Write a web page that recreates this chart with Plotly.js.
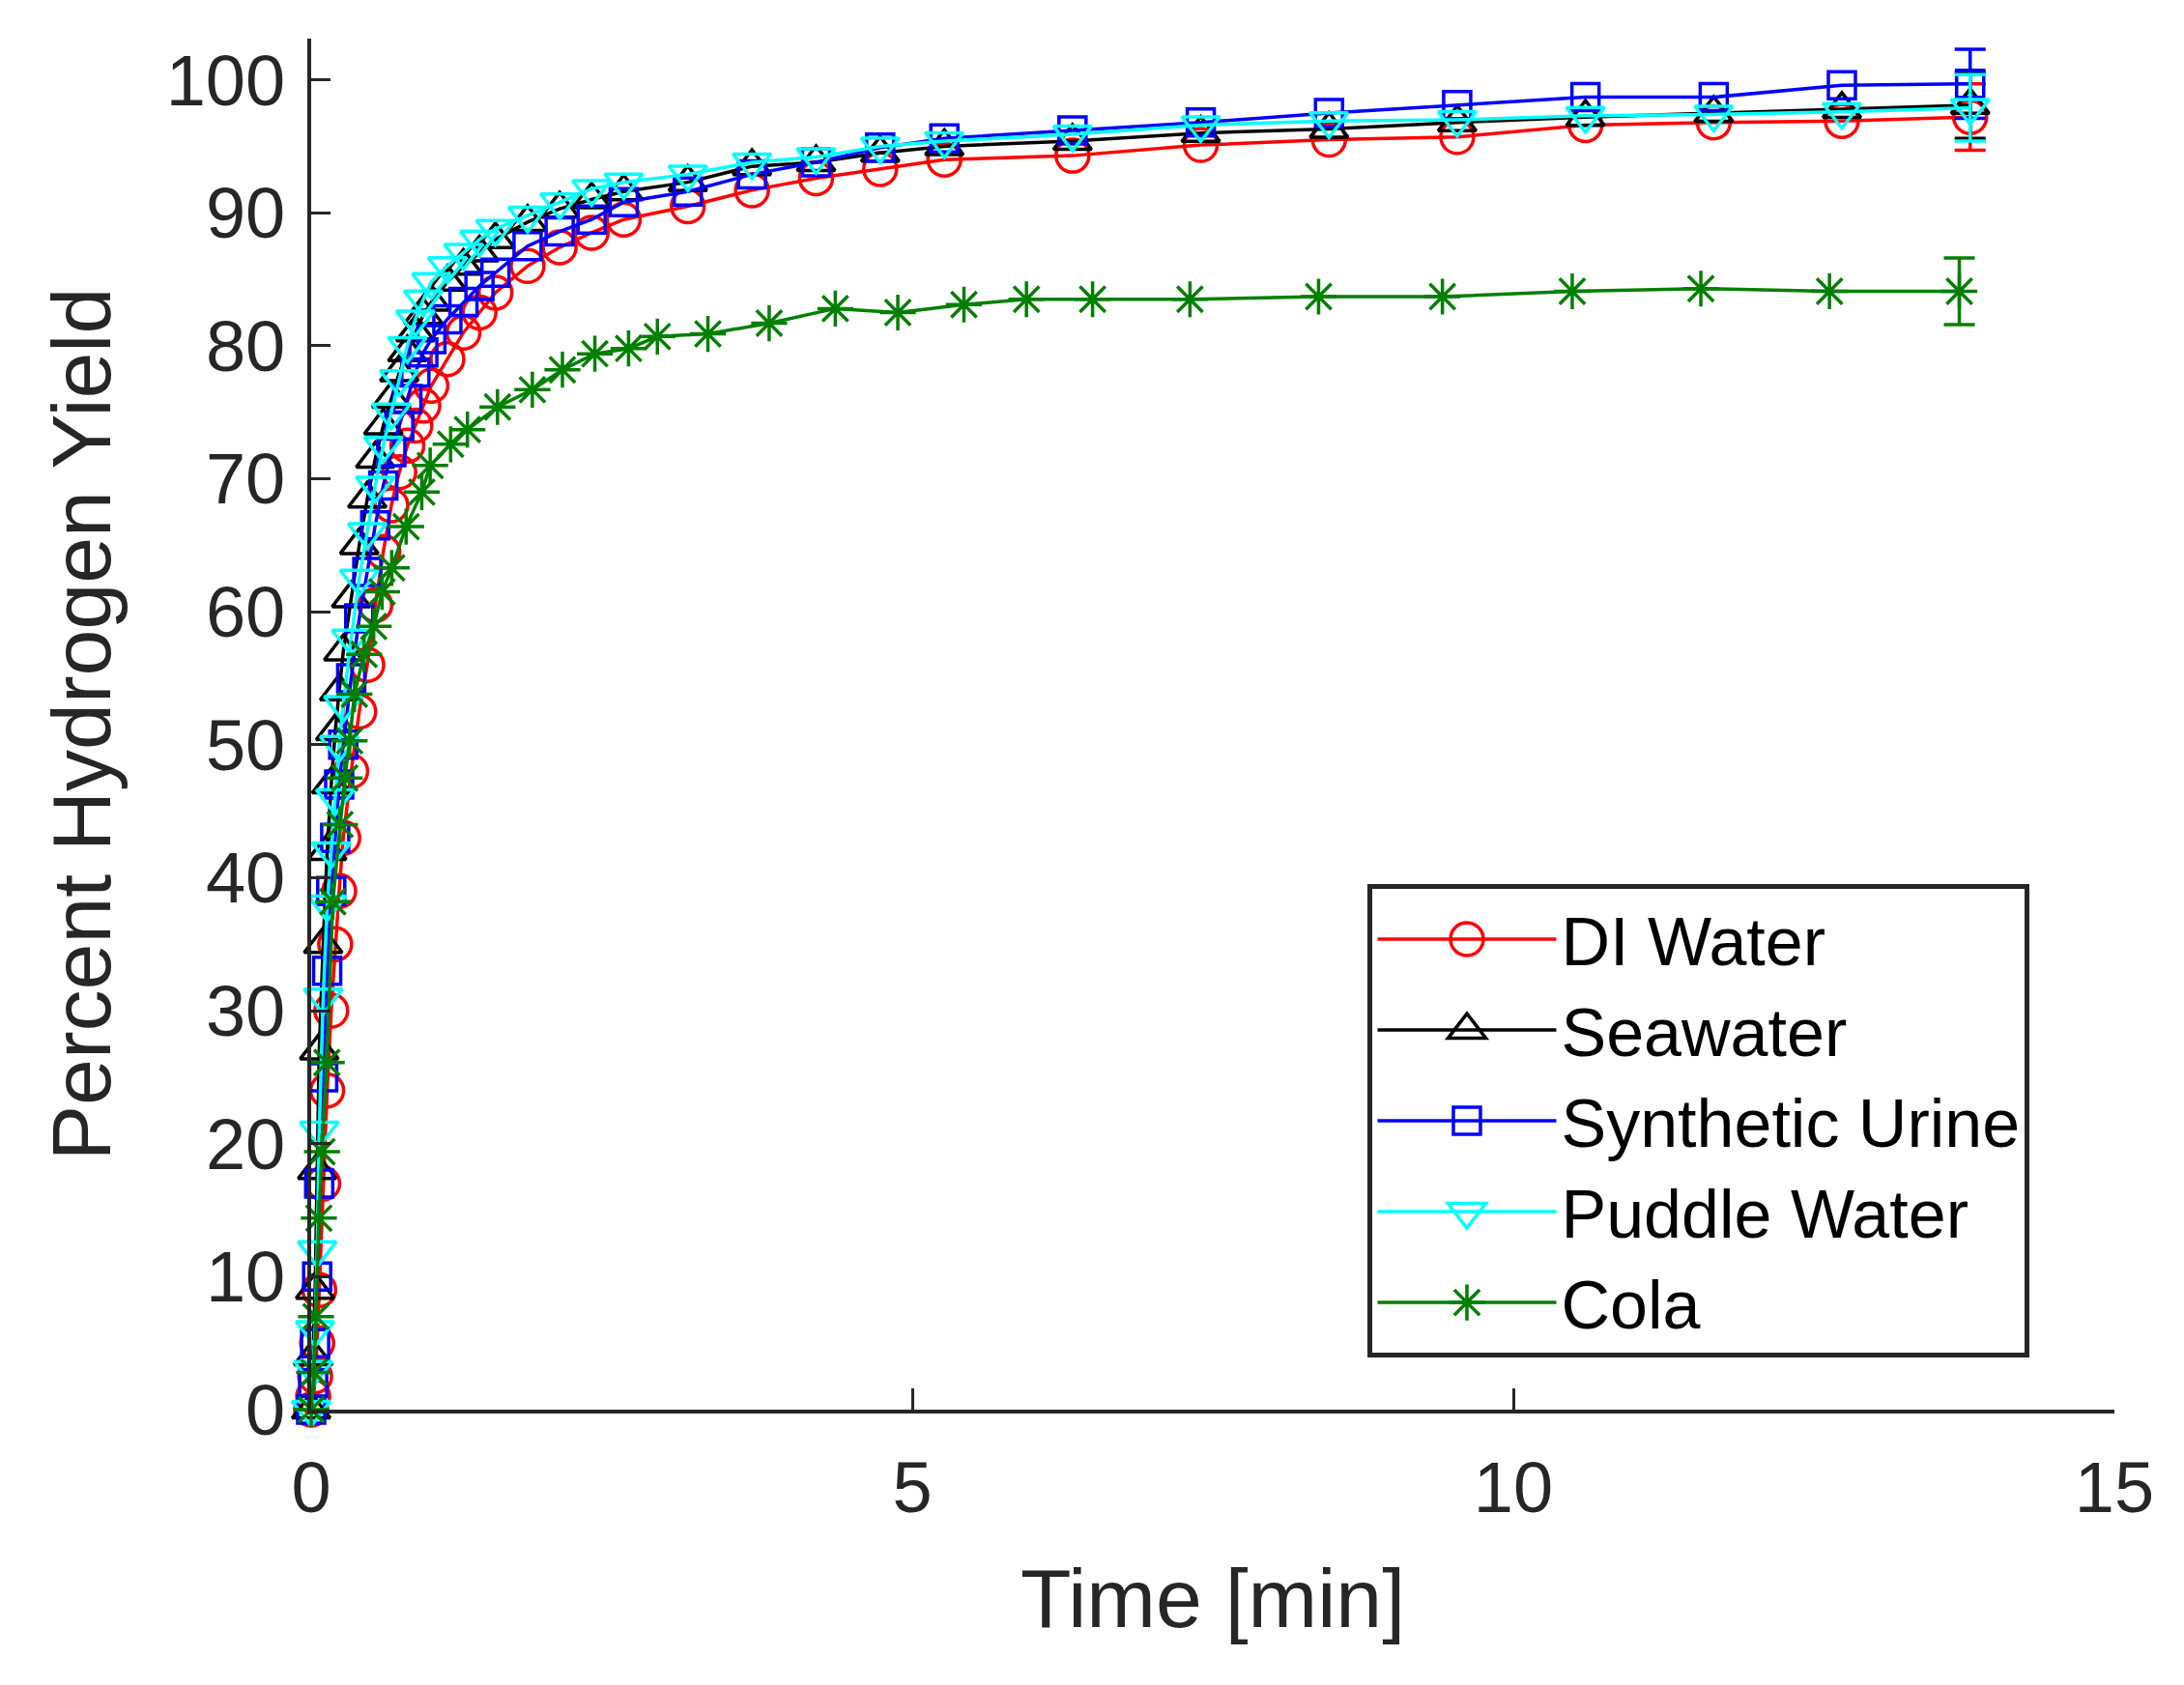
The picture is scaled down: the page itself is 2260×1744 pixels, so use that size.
<!DOCTYPE html>
<html>
<head>
<meta charset="utf-8">
<script src="https://cdn.plot.ly/plotly-3.0.1.min.js"></script>
<style>html,body{margin:0;padding:0;background:#fff}</style>
</head>
<body>
<div id="chart" style="width:2260px;height:1744px"></div>
<script>
// sampling times [min] for the four water-like samples
const timeWater = [0, 0.017, 0.033, 0.05, 0.067, 0.1, 0.133, 0.167, 0.2, 0.233, 0.267, 0.333, 0.4, 0.467,
  0.533, 0.6, 0.667, 0.733, 0.8, 0.867, 0.933, 1.0, 1.133, 1.267, 1.4, 1.533, 1.8, 2.067, 2.333, 2.6,
  3.133, 3.667, 4.2, 4.733, 5.267, 6.333, 7.4, 8.467, 9.533, 10.6, 11.667, 12.733, 13.8];

const diWater = [0, 1, 2.5, 5, 9, 17, 24, 30, 35, 39, 43, 48, 52.5, 56, 60.5, 64.5, 68, 70.5, 72.5, 74,
  75.5, 77, 79, 81, 82.5, 84, 86, 87.4, 88.5, 89.5, 90.5, 91.7, 92.6, 93.3, 94.0, 94.3, 95.1, 95.5,
  95.7, 96.6, 96.8, 96.9, 97.2];
const seawater = [0, 4, 9, 18, 27, 35, 42, 47, 51, 54, 57, 61, 65, 68.5, 71.5, 74, 76, 78, 79.5, 81,
  82.3, 83.3, 84.8, 86, 87, 88, 89.3, 90.3, 91, 91.6, 92.3, 93.5, 93.8, 94.5, 95.0, 95.4, 96.0, 96.3,
  96.8, 97.2, 97.5, 97.8, 98.1];
const syntheticUrine = [0, 2, 5, 10, 17, 25, 33, 39, 43, 47, 50, 55, 59.5, 63, 66.5, 69.5, 72, 74, 76,
  78, 79.5, 80.5, 82, 83.3, 84.5, 85.5, 87.5, 88.6, 89.5, 90.8, 91.6, 92.9, 93.8, 94.9, 95.6, 96.2,
  96.8, 97.5, 98.1, 98.7, 98.7, 99.6, 99.7];
const puddleWater = [0, 3, 6, 12, 21, 31, 38, 42, 46, 50, 53, 58, 62.5, 66, 69.5, 72.5, 75, 77.5, 80,
  82, 83.5, 84.8, 86, 87, 88, 88.8, 89.8, 90.8, 91.8, 92.3, 92.9, 93.8, 94.2, 95.0, 95.4, 95.9, 96.6,
  96.9, 97.0, 97.3, 97.4, 97.6, 97.9];

// cola was sampled on its own times
const timeCola = [0, 0.024, 0.04, 0.064, 0.09, 0.13, 0.18, 0.24, 0.28, 0.32, 0.36, 0.44, 0.52, 0.59,
  0.67, 0.79, 0.92, 0.99, 1.16, 1.30, 1.55, 1.84, 2.09, 2.36, 2.64, 2.88, 3.30, 3.81, 4.36, 4.88, 5.43,
  5.95, 6.50, 7.31, 8.38, 9.41, 10.49, 11.56, 12.63, 13.71];
const cola = [0, 2.8, 7, 14.4, 19.4, 26.1, 38.2, 44.0, 47.5, 50.3, 53.8, 56.8, 58.9, 61.5, 63.3, 66.4,
  69.0, 71.0, 72.6, 73.7, 75.4, 76.7, 78.2, 79.4, 79.8, 80.7, 80.9, 81.7, 82.8, 82.5, 83.1, 83.5, 83.5,
  83.5, 83.7, 83.7, 84.1, 84.3, 84.1, 84.1];

// error at the final point only
const finalError = {di: 2.5, sea: 2.5, urine: 2.6, puddle: 2.5, cola: 2.5};

const seriesNames = ['DI Water', 'Seawater', 'Synthetic Urine', 'Puddle Water', 'Cola'];

const FONT = 'Liberation Sans, Arial, sans-serif';
const AXIS = '#262626';

function lastOnly(arr, err) {
  return arr.map((_, i) => (i === arr.length - 1 ? err : NaN));
}

function makeTrace(name, x, y, color, symbol, size, err) {
  return {
    x: x,
    y: y,
    name: name,
    type: 'scatter',
    mode: 'lines+markers',
    cliponaxis: false,
    line: {color: color, width: 3.5},
    marker: {symbol: symbol, size: size, color: color, line: {color: color, width: 3.5}},
    error_y: {type: 'data', array: lastOnly(y, err), visible: true, color: color, thickness: 3.5, width: 16},
  };
}

const data = [
  makeTrace(seriesNames[0], timeWater, diWater, '#ff0000', 'circle-open', 34, finalError.di),
  makeTrace(seriesNames[1], timeWater, seawater, '#000000', 'triangle-up-open', 34, finalError.sea),
  makeTrace(seriesNames[2], timeWater, syntheticUrine, '#0000ff', 'square-open', 28, finalError.urine),
  makeTrace(seriesNames[3], timeWater, puddleWater, '#00ffff', 'triangle-down-open', 34, finalError.puddle),
  makeTrace(seriesNames[4], timeCola, cola, '#008000', 'asterisk-open', 31, finalError.cola),
];

const layout = {
  width: 2260,
  height: 1744,
  margin: {l: 322, r: 72, t: 40, b: 285},
  paper_bgcolor: '#ffffff',
  plot_bgcolor: '#ffffff',
  font: {family: FONT, color: AXIS},
  showlegend: true,
  xaxis: {
    range: [0, 15],
    tickvals: [0, 5, 10, 15],
    ticks: 'inside',
    ticklen: 22,
    tickwidth: 3,
    tickcolor: AXIS,
    showline: true,
    linecolor: AXIS,
    linewidth: 4,
    showgrid: false,
    zeroline: false,
    tickfont: {size: 74, color: AXIS},
    ticklabelstandoff: 13,
    title: {text: 'Time [min]', font: {size: 86, color: AXIS}, standoff: 45},
  },
  yaxis: {
    range: [0, 103.1],
    tickvals: [0, 10, 20, 30, 40, 50, 60, 70, 80, 90, 100],
    ticks: 'inside',
    ticklen: 20,
    tickwidth: 3,
    tickcolor: AXIS,
    showline: true,
    linecolor: AXIS,
    linewidth: 4,
    showgrid: false,
    zeroline: false,
    tickfont: {size: 74, color: AXIS},
    ticklabelstandoff: 8,
    title: {text: 'Percent Hydrogen Yield', font: {size: 86, color: AXIS}, standoff: 30},
  },
  legend: {
    x: 0.586,
    y: 0.038,
    xanchor: 'left',
    yanchor: 'bottom',
    bgcolor: '#ffffff',
    bordercolor: '#262626',
    borderwidth: 5,
    font: {size: 70, color: '#000000', family: FONT},
    itemwidth: 185,
  },
};

Plotly.newPlot('chart', data, layout, {staticPlot: true}).then(gd => {
  // legend symbols are capped at 16px; scale them back to the plotted size
  gd.querySelectorAll('.legend .traces').forEach((g, i) => {
    const s = data[i].marker.size / 16;
    g.querySelectorAll('.legendpoints path.scatterpts').forEach(p => {
      p.setAttribute('transform', (p.getAttribute('transform') || '') + ' scale(' + s + ')');
      p.style.vectorEffect = 'non-scaling-stroke';
    });
  });
});
</script>
</body>
</html>
